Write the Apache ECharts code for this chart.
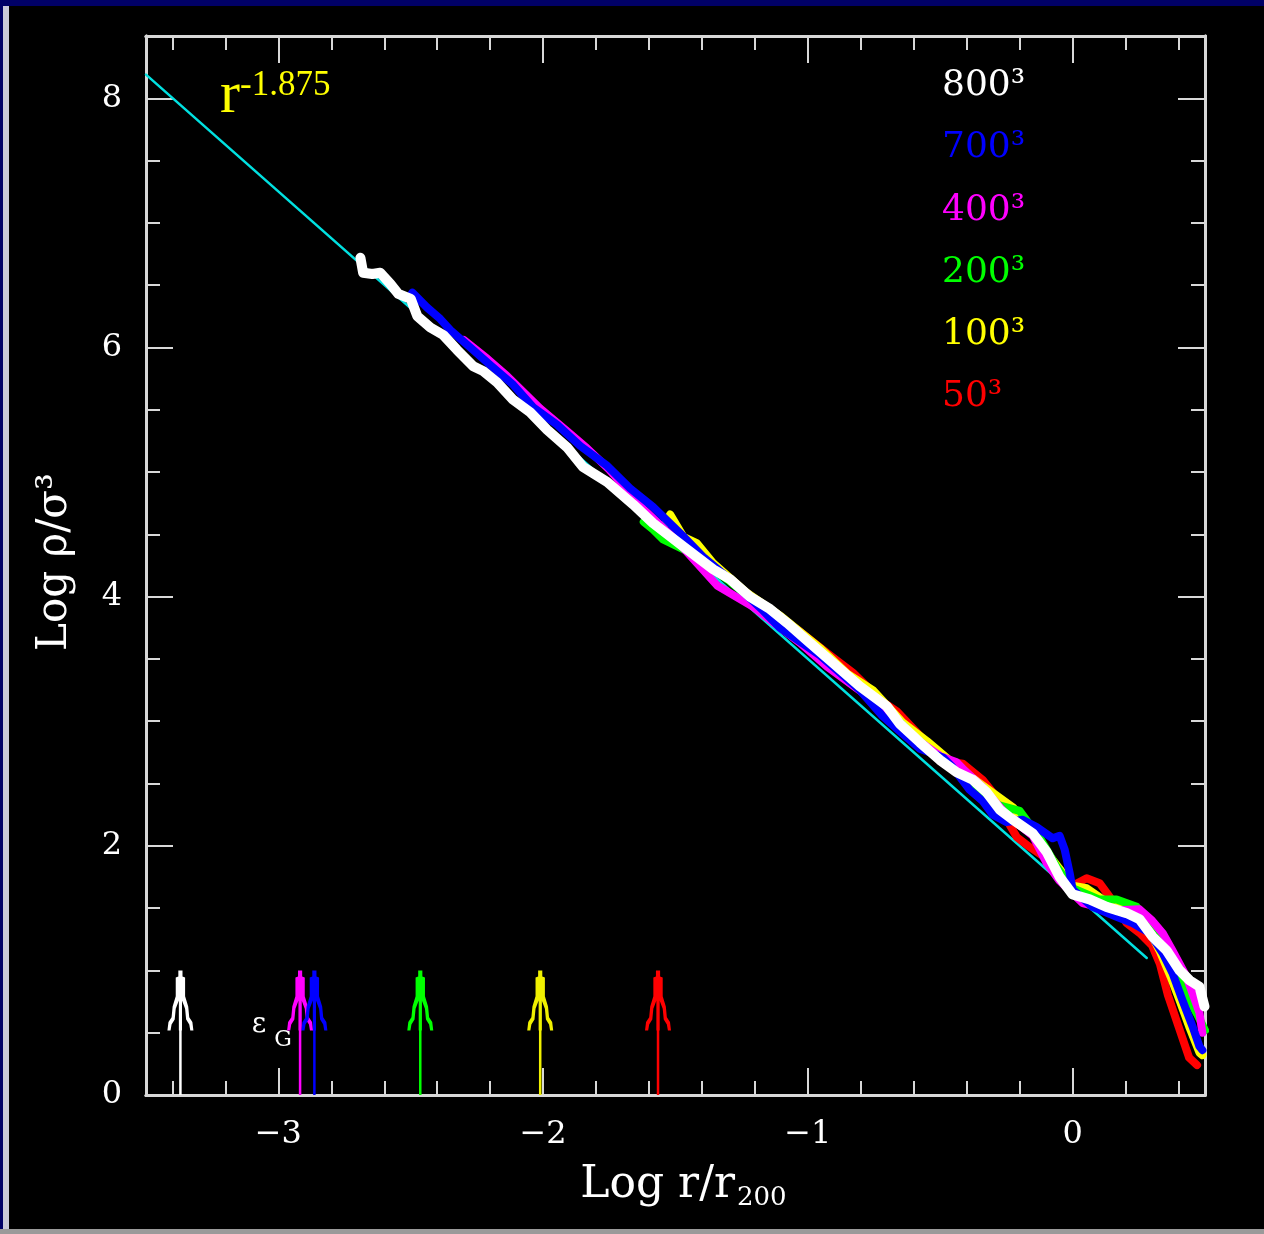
<!DOCTYPE html>
<html>
<head>
<meta charset="utf-8">
<script src="https://cdn.jsdelivr.net/npm/echarts@6/dist/echarts.min.js"></script>
<style>
html,body{margin:0;padding:0;background:#000;}
#chart{width:1264px;height:1234px;}
</style>
</head>
<body>
<div id="chart"></div>
<script>
// ---------- data ----------
const xRange = [-3.5, 0.5];
const yRange = [0, 8.5];
const xMajorTicks = [-3, -2, -1, 0];
const xMinorTicks = [-3.4, -3.2, -2.8, -2.6, -2.4, -2.2, -1.8, -1.6, -1.4, -1.2, -0.8, -0.6, -0.4, -0.2, 0.2, 0.4];
const yMajorTicks = [0, 2, 4, 6, 8];
const yMinorTicks = [0.5, 1, 1.5, 2.5, 3, 3.5, 4.5, 5, 5.5, 6.5, 7, 7.5];

const legendLabels = ['800³', '700³', '400³', '200³', '100³', '50³'];

// power-law fit r^-1.875
const fitLine = [[-3.5, 8.19], [0.28, 1.10]];

const res800 = [[-2.69,6.72],[-2.68,6.60],[-2.645,6.59],[-2.615,6.60],[-2.577,6.51],[-2.547,6.43],[-2.50,6.39],[-2.475,6.25],[-2.426,6.16],[-2.377,6.10],[-2.325,5.98],[-2.264,5.85],[-2.226,5.81],[-2.174,5.72],[-2.113,5.58],[-2.049,5.48],[-1.985,5.34],[-1.91,5.20],[-1.849,5.04],[-1.758,4.92],[-1.66,4.74],[-1.585,4.59],[-1.457,4.38],[-1.358,4.22],[-1.294,4.14],[-1.219,4.00],[-1.143,3.90],[-1.079,3.79],[-1.004,3.65],[-0.906,3.47],[-0.804,3.28],[-0.702,3.12],[-0.653,2.98],[-0.577,2.83],[-0.502,2.69],[-0.438,2.59],[-0.377,2.53],[-0.325,2.43],[-0.275,2.29],[-0.226,2.21],[-0.151,2.10],[-0.098,1.95],[-0.049,1.75],[0.0,1.61],[0.064,1.57],[0.128,1.51],[0.204,1.46],[0.253,1.41],[0.302,1.27],[0.355,1.16],[0.404,1.00],[0.442,0.92],[0.479,0.87],[0.498,0.71]];

const res700 = [[-2.494,6.44],[-2.438,6.32],[-2.389,6.23],[-2.351,6.14],[-2.264,5.98],[-2.2,5.86],[-2.113,5.70],[-2.038,5.52],[-1.947,5.38],[-1.86,5.21],[-1.758,5.05],[-1.672,4.87],[-1.585,4.72],[-1.483,4.51],[-1.396,4.32],[-1.306,4.16],[-1.17,3.89],[-1.106,3.75],[-0.955,3.53],[-0.804,3.25],[-0.717,3.04],[-0.653,2.92],[-0.577,2.78],[-0.49,2.71],[-0.453,2.63],[-0.389,2.45],[-0.34,2.36],[-0.302,2.25],[-0.249,2.19],[-0.189,2.21],[-0.136,2.15],[-0.075,2.06],[-0.049,2.08],[-0.03,1.97],[-0.011,1.78],[0.0,1.65],[0.075,1.51],[0.166,1.43],[0.226,1.38],[0.291,1.30],[0.34,1.14],[0.377,0.98],[0.415,0.76],[0.453,0.55],[0.479,0.39],[0.49,0.36]];

const res400 = [[-2.30,6.06],[-2.211,5.91],[-2.136,5.77],[-2.011,5.51],[-1.91,5.33],[-1.834,5.19],[-1.75,5.02],[-1.62,4.70],[-1.50,4.46],[-1.343,4.09],[-1.208,3.92],[-1.03,3.63],[-0.928,3.44],[-0.80,3.24],[-0.70,3.07],[-0.60,2.87],[-0.50,2.72],[-0.438,2.67],[-0.415,2.62],[-0.34,2.47],[-0.25,2.25],[-0.15,2.08],[-0.098,1.86],[-0.05,1.72],[0.038,1.54],[0.15,1.48],[0.253,1.49],[0.30,1.40],[0.34,1.30],[0.377,1.16],[0.43,0.95],[0.479,0.66],[0.49,0.50]];

const res200 = [[-1.62,4.60],[-1.585,4.54],[-1.547,4.46],[-1.45,4.36],[-1.30,4.13],[-1.15,3.87],[-1.0,3.62],[-0.85,3.36],[-0.70,3.09],[-0.60,2.88],[-0.50,2.70],[-0.40,2.55],[-0.287,2.33],[-0.20,2.28],[-0.12,2.05],[-0.06,1.83],[0.0,1.66],[0.10,1.57],[0.166,1.57],[0.242,1.51],[0.30,1.35],[0.36,1.10],[0.42,0.85],[0.47,0.65],[0.50,0.52]];

const res100 = [[-1.56,4.50],[-1.52,4.66],[-1.47,4.48],[-1.42,4.43],[-1.358,4.27],[-1.23,4.03],[-1.10,3.84],[-0.95,3.58],[-0.85,3.38],[-0.755,3.25],[-0.642,2.99],[-0.55,2.84],[-0.45,2.66],[-0.35,2.50],[-0.226,2.31],[-0.15,2.12],[-0.08,1.90],[0.0,1.68],[0.053,1.66],[0.12,1.56],[0.20,1.48],[0.28,1.36],[0.33,1.15],[0.37,0.95],[0.404,0.76],[0.44,0.55],[0.479,0.34],[0.49,0.32]];

const res50 = [[-1.25,4.06],[-1.15,3.90],[-1.03,3.72],[-0.917,3.53],[-0.83,3.39],[-0.72,3.16],[-0.664,3.08],[-0.566,2.86],[-0.48,2.68],[-0.415,2.66],[-0.34,2.53],[-0.302,2.43],[-0.26,2.25],[-0.211,2.07],[-0.162,1.99],[-0.10,1.90],[-0.05,1.78],[0.0,1.68],[0.053,1.74],[0.102,1.70],[0.14,1.59],[0.204,1.38],[0.253,1.30],[0.30,1.20],[0.33,1.05],[0.36,0.80],[0.40,0.55],[0.44,0.30],[0.47,0.24]];

// softening-length arrows (Log r/r200) and their tip height
const arrowX = [-3.37, -2.918, -2.864, -2.464, -2.011, -1.566];
const arrowTip = 1.0;

// ---------- styling ----------
const seriesColors = {w:'#ffffff', b:'#0000ff', m:'#ff00ff', g:'#00ff00', y:'#ffff00', r:'#ff0000', c:'#00e0e0'};
const legendColors = [seriesColors.w, seriesColors.b, seriesColors.m, seriesColors.g, seriesColors.y, seriesColors.r];
const arrowColors = [seriesColors.w, seriesColors.m, seriesColors.b, seriesColors.g, '#f0f000', seriesColors.r];
const frameColor = '#d8d8d8';
const tickFont = 'DejaVu Serif';

const chart = echarts.init(document.getElementById('chart'));

function mkX(pos, ticks, len, labels) {
  return {
    type: 'value', min: xRange[0], max: xRange[1], position: pos,
    axisLine: {show: true, onZero: false, lineStyle: {color: frameColor, width: 3}},
    axisTick: {show: true, inside: true, length: len, customValues: ticks, lineStyle: {color: frameColor, width: 2}},
    axisLabel: {show: labels, customValues: ticks, margin: 24, color: '#fff', fontFamily: tickFont, fontSize: 32,
      formatter: v => v < 0 ? '\u2212' + Math.abs(v) : String(v)},
    splitLine: {show: false}
  };
}
function mkY(pos, ticks, len, labels) {
  return {
    type: 'value', min: yRange[0], max: yRange[1], position: pos,
    axisLine: {show: true, onZero: false, lineStyle: {color: frameColor, width: 3}},
    axisTick: {show: true, inside: true, length: len, customValues: ticks, lineStyle: {color: frameColor, width: 2}},
    axisLabel: {show: labels, customValues: ticks, margin: 24, color: '#fff', fontFamily: tickFont, fontSize: 32},
    splitLine: {show: false}
  };
}

function curve(name, data, color, width) {
  return {name, type: 'line', data, showSymbol: false, symbol: 'none', silent: true,
    lineStyle: {color, width, join: 'round', cap: 'round'}, z: 3};
}

const headPath = 'path://M42,0 L58,0 L58,10 L68,12 L68,43 L80,60 L84,78 L96,86 L100,100 L88,100 L84,90 L72,82 L68,64 L56,50 L56,100 L44,100 L44,50 L32,64 L28,82 L16,90 L12,100 L0,100 L4,86 L16,78 L20,60 L32,43 L32,12 L42,10 Z';

const series = [curve('fit', fitLine, seriesColors.c, 2.5)];
series.push(curve('50³', res50, seriesColors.r, 8));
series.push(curve('100³', res100, seriesColors.y, 8));
series.push(curve('200³', res200, seriesColors.g, 8));
series.push(curve('400³', res400, seriesColors.m, 8));
series.push(curve('700³', res700, seriesColors.b, 8));
series.push(curve('800³', res800, seriesColors.w, 10));

arrowX.forEach((x, i) => {
  series.push({type: 'line', data: [[x, 0], [x, arrowTip * 0.9]], symbol: 'none', silent: true,
    lineStyle: {color: arrowColors[i], width: 2.5}, z: 2});
  series.push({type: 'scatter', data: [[x, arrowTip]], symbol: headPath, symbolSize: [26, 60],
    symbolOffset: [0, '50%'], silent: true, itemStyle: {color: arrowColors[i], opacity: 1}, z: 2});
});

const legendY = [86, 148, 211, 273, 335, 397];
const graphics = [
  {type: 'rect', shape: {x: 0, y: 0, width: 1264, height: 6}, style: {fill: '#000066'}, silent: true},
  {type: 'rect', shape: {x: 0, y: 0, width: 3, height: 1234}, style: {fill: '#000066'}, silent: true},
  {type: 'rect', shape: {x: 3, y: 6, width: 6, height: 1228}, style: {fill: '#c8c8d8'}, silent: true},
  {type: 'rect', shape: {x: 0, y: 1229, width: 1264, height: 5}, style: {fill: '#9a9a9a'}, silent: true},
  {type: 'text', x: 220, y: 96, style: {text: 'r', fill: '#ffff00', font: '60px "Liberation Serif"', textAlign: 'left', textVerticalAlign: 'middle'}},
  {type: 'text', x: 240, y: 86, style: {text: '-1.875', fill: '#ffff00', font: '35px "Liberation Serif"', textAlign: 'left', textVerticalAlign: 'middle'}},
  {type: 'text', x: 735, y: 1186, style: {text: 'Log r/r', fill: '#fff', font: '44px "DejaVu Serif"', textAlign: 'right', textVerticalAlign: 'middle'}},
  {type: 'text', x: 737, y: 1198, style: {text: '200', fill: '#fff', font: '26px "DejaVu Serif"', textAlign: 'left', textVerticalAlign: 'middle'}},
  {type: 'text', x: 55, y: 562, rotation: Math.PI / 2, style: {text: 'Log ρ/σ³', fill: '#fff', font: '42px "DejaVu Serif"', textAlign: 'center', textVerticalAlign: 'middle'}},
  {type: 'text', x: 259, y: 1025, style: {text: 'ε', fill: '#fff', font: '28px "DejaVu Serif"', textAlign: 'center', textVerticalAlign: 'middle'}},
  {type: 'text', x: 283, y: 1040, style: {text: 'G', fill: '#fff', font: '22px "DejaVu Serif"', textAlign: 'center', textVerticalAlign: 'middle'}}
];
legendLabels.forEach((t, i) => {
  graphics.push({type: 'text', x: 942, y: legendY[i], style: {text: t, fill: legendColors[i], font: '36px "DejaVu Serif"', textAlign: 'left', textVerticalAlign: 'middle'}});
});

chart.setOption({
  animation: false,
  backgroundColor: '#000',
  grid: {left: 146, top: 36, right: 59, bottom: 139, containLabel: false},
  xAxis: [
    mkX('bottom', xMajorTicks, 27, true),
    mkX('bottom', xMinorTicks, 14, false),
    mkX('top', xMajorTicks, 27, false),
    mkX('top', xMinorTicks, 14, false)
  ],
  yAxis: [
    mkY('left', yMajorTicks, 27, true),
    mkY('left', yMinorTicks, 14, false),
    mkY('right', yMajorTicks, 27, false),
    mkY('right', yMinorTicks, 14, false)
  ],
  series: series,
  graphic: graphics
});
</script>
</body>
</html>
